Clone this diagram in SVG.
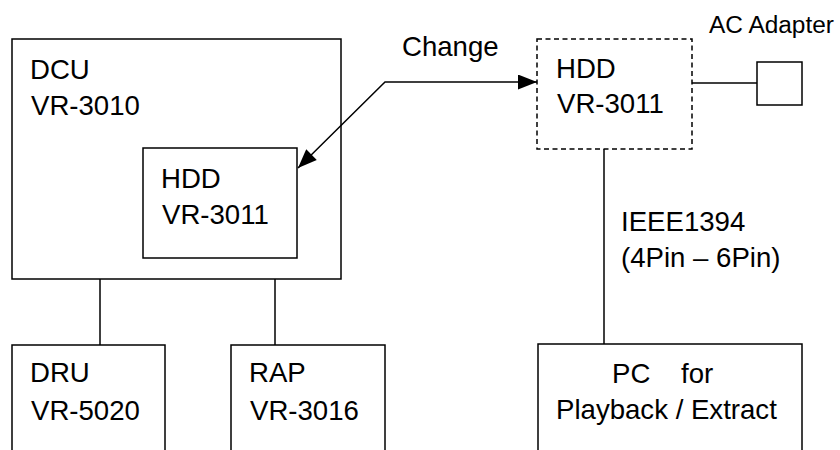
<svg xmlns="http://www.w3.org/2000/svg" width="840" height="450" viewBox="0 0 840 450">
<style>
.box{fill:none;stroke:#000;stroke-width:1.5}
.dash{stroke-dasharray:5 3.5}
.t{font-family:"Liberation Sans",Arial,sans-serif;font-size:27.6px;fill:#000}
.s{font-size:23px}
.c{fill:none;stroke:#000;stroke-width:1.5}
</style>
<defs>
<marker id="ah" markerUnits="userSpaceOnUse" markerWidth="22" markerHeight="18" refX="19" refY="7.5" orient="auto">
<path d="M0,0 L19,7.5 L0,15 z" fill="#000"/>
</marker>
<marker id="ahs" markerUnits="userSpaceOnUse" markerWidth="22" markerHeight="18" refX="0" refY="7.5" orient="auto">
<path d="M19,0 L0,7.5 L19,15 z" fill="#000"/>
</marker>
</defs>
<rect width="840" height="450" fill="#fff"/>
<g id="connectors">
<line class="c" x1="100" y1="279" x2="100" y2="345"/>
<line class="c" x1="275" y1="279" x2="275" y2="345"/>
<line class="c" x1="692" y1="83" x2="757" y2="83"/>
<line class="c" x1="604" y1="149" x2="604" y2="344"/>
<polyline class="c" points="298,168 385,82 537,82" marker-start="url(#ahs)" marker-end="url(#ah)"/>
</g>
<g id="dcu">
<rect class="box" x="12" y="39" width="329" height="240"/>
<text class="t" x="30" y="79">DCU</text>
<text class="t" x="31" y="115">VR-3010</text>
</g>
<g id="hdd-inner">
<rect class="box" x="143" y="148" width="154" height="110"/>
<text class="t" x="161" y="188">HDD</text>
<text class="t" x="162" y="224">VR-3011</text>
</g>
<g id="change-label">
<text class="t" x="402" y="56">Change</text>
</g>
<g id="hdd-ext">
<rect class="box dash" x="537" y="39" width="155" height="110"/>
<text class="t" x="556" y="78">HDD</text>
<text class="t" x="557" y="113">VR-3011</text>
</g>
<g id="ac-adapter">
<rect class="box" x="757" y="62" width="45" height="43"/>
<text class="t s" x="709" y="33" textLength="125" lengthAdjust="spacingAndGlyphs">AC Adapter</text>
</g>
<g id="ieee-label">
<text class="t" x="621" y="231">IEEE1394</text>
<text class="t" x="621" y="267">(4Pin – 6Pin)</text>
</g>
<g id="pc">
<rect class="box" x="538" y="344" width="264" height="120"/>
<text class="t" x="612" y="383" xml:space="preserve">PC    for</text>
<text class="t" x="556" y="419">Playback / Extract</text>
</g>
<g id="dru">
<rect class="box" x="12" y="345" width="153" height="120"/>
<text class="t" x="30" y="382">DRU</text>
<text class="t" x="31" y="420">VR-5020</text>
</g>
<g id="rap">
<rect class="box" x="231" y="345" width="154" height="120"/>
<text class="t" x="249" y="382">RAP</text>
<text class="t" x="250" y="420">VR-3016</text>
</g>
</svg>
